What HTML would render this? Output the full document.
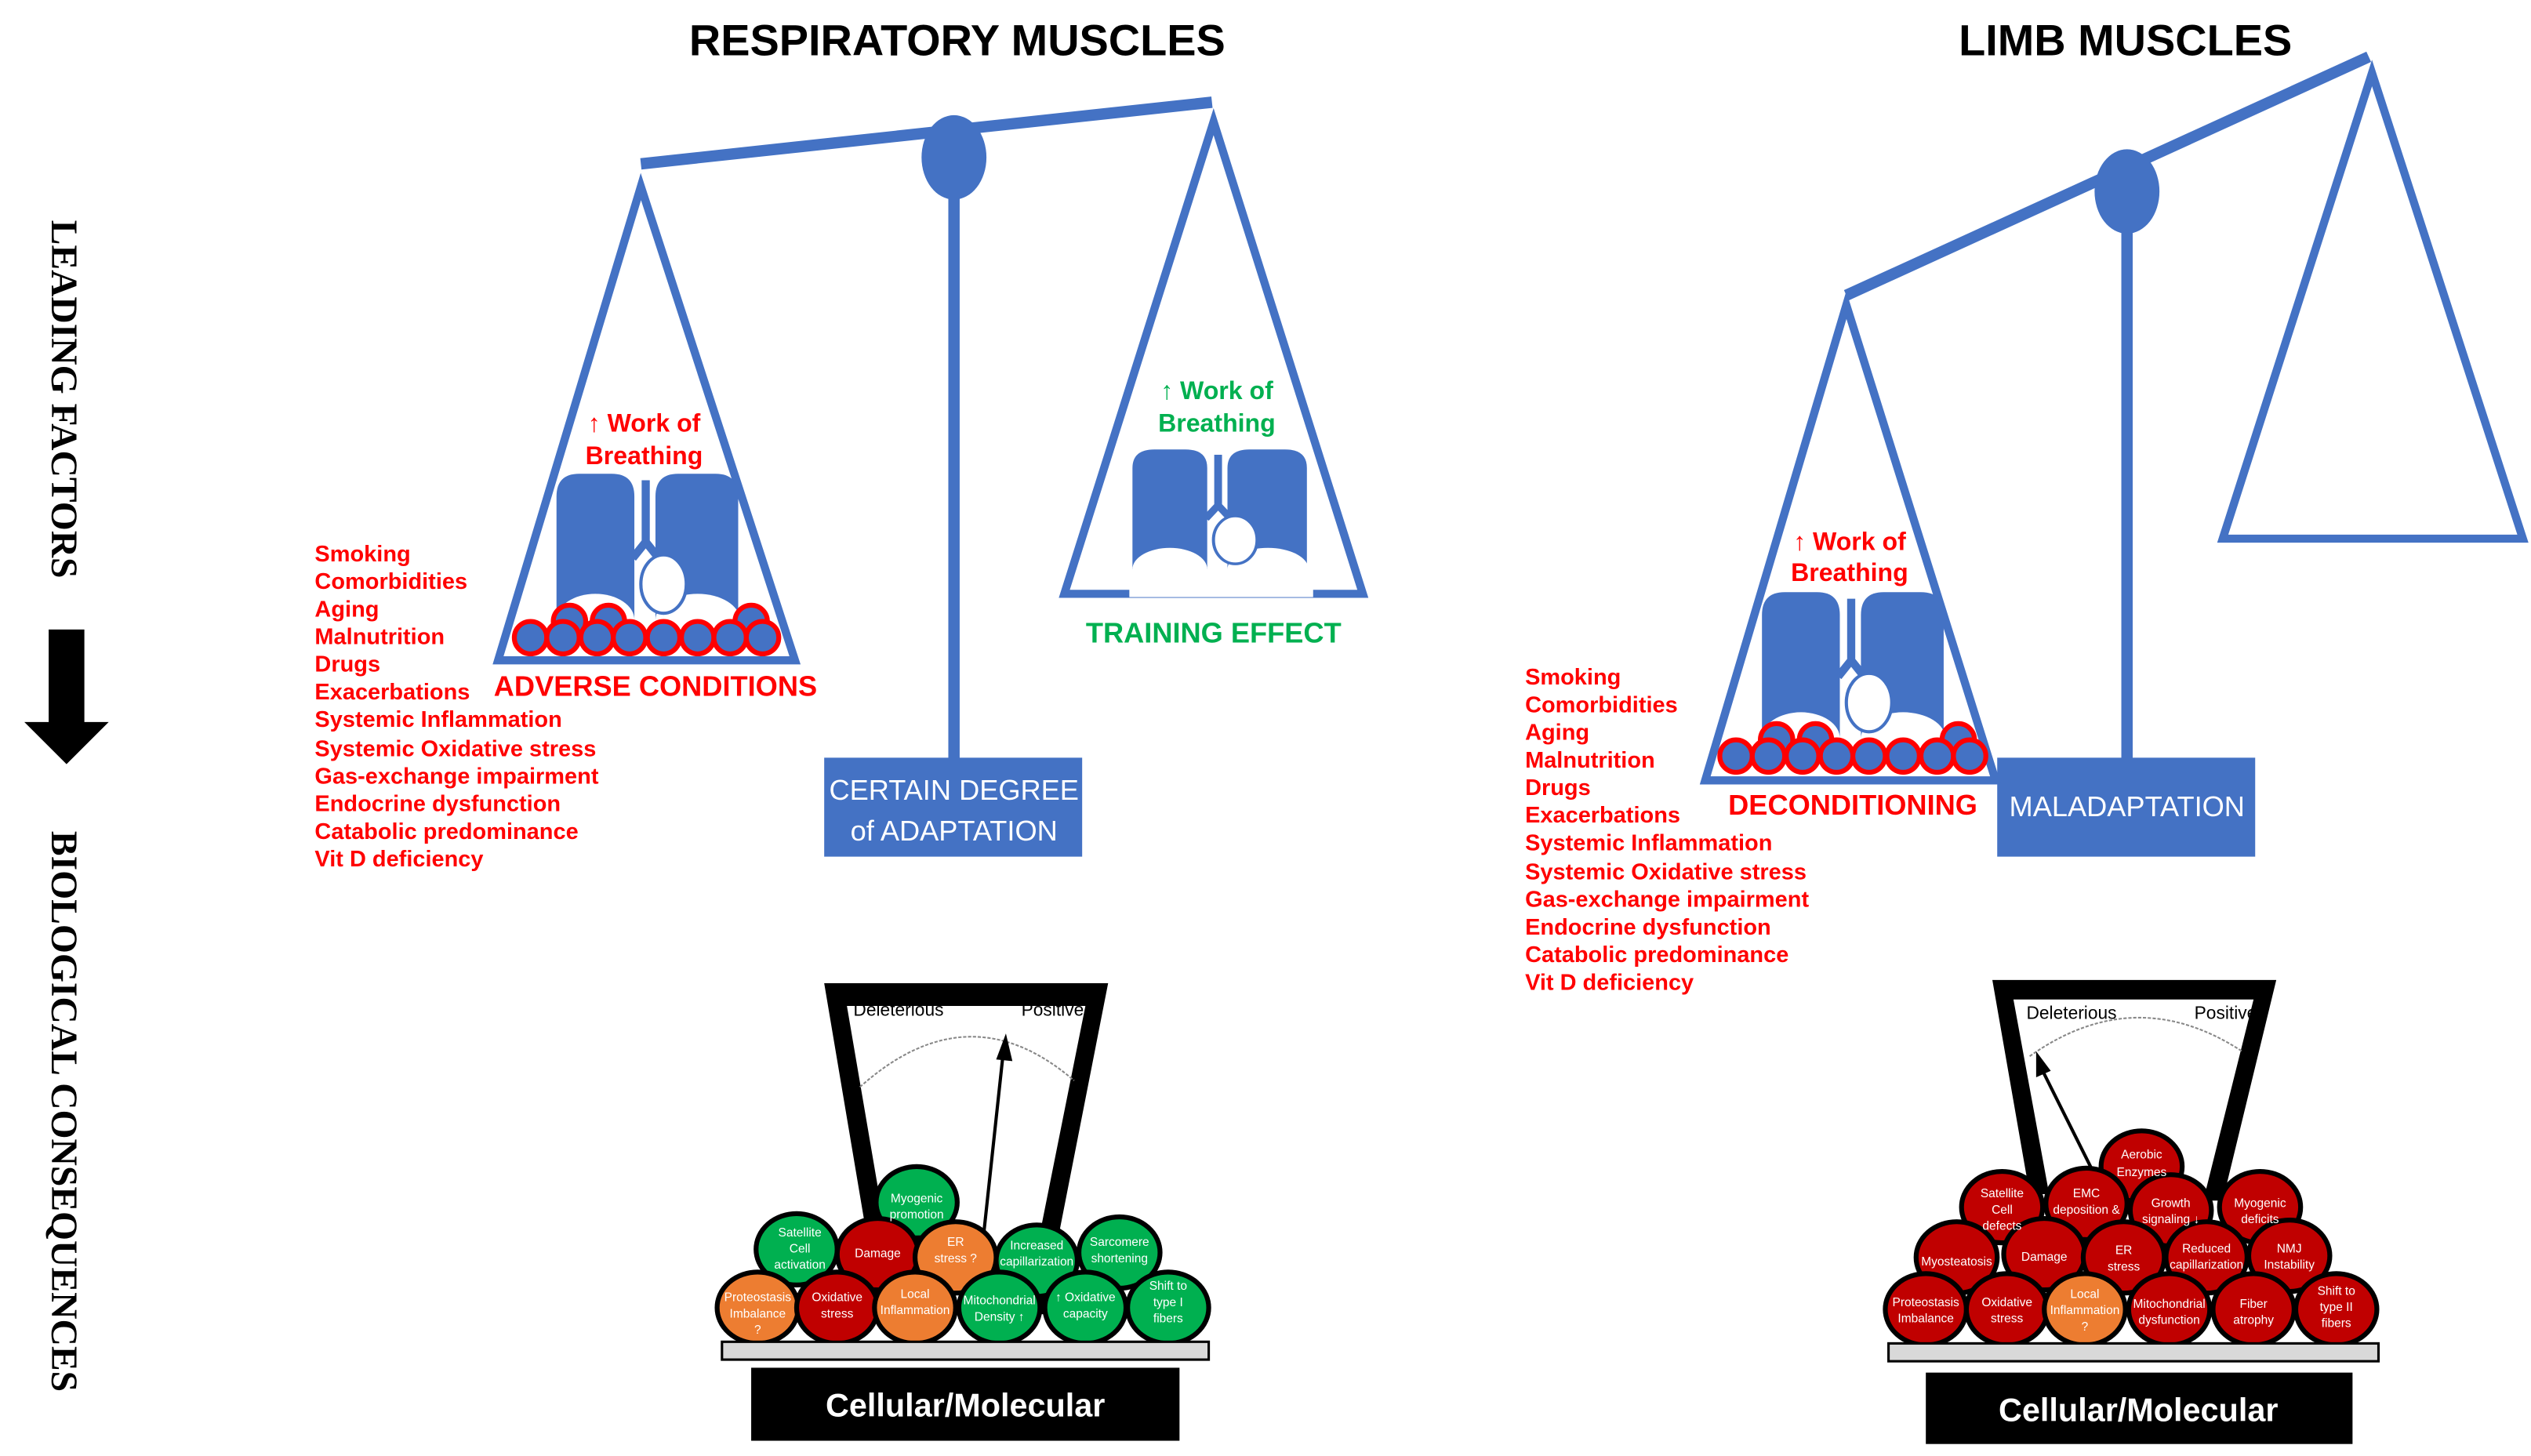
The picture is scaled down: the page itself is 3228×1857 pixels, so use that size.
<!DOCTYPE html>
<html><head><meta charset="utf-8"><style>
html,body{margin:0;padding:0;background:#fff}
svg{display:block}
text{font-family:"Liberation Sans",sans-serif}
</style></head><body>
<svg width="3228" height="1857" viewBox="0 0 1560 897.4" preserveAspectRatio="none" xmlns="http://www.w3.org/2000/svg">
<defs>
<g id="lungs">
  <path d="M0,90 L0,14 Q0,0 14,0 L34,0 Q48,0 48,14 L48,90 Z" fill="#4472C4"/>
  <path d="M61,90 L61,14 Q61,0 75,0 L98,0 Q112,0 112,14 L112,90 Z" fill="#4472C4"/>
  <path d="M55,4 L55,42 L47,52 M55,42 L63,52" stroke="#4472C4" stroke-width="5" fill="none"/>
  <ellipse cx="24" cy="90" rx="24" ry="16" fill="#fff"/>
  <ellipse cx="87" cy="90" rx="26" ry="16" fill="#fff"/>
  <rect x="-2" y="91" width="118" height="20" fill="#fff"/>
  <ellipse cx="66" cy="68" rx="14" ry="18" fill="#fff" stroke="#4472C4" stroke-width="2"/>
</g>
</defs>

<!-- Titles -->
<text x="590" y="34" font-size="27" font-weight="bold" text-anchor="middle" fill="#000">RESPIRATORY MUSCLES</text>
<text x="1310" y="34" font-size="27" font-weight="bold" text-anchor="middle" fill="#000">LIMB MUSCLES</text>

<!-- Vertical labels -->
<text transform="translate(32,246) rotate(90)" font-family="Liberation Serif,serif" font-size="23" font-weight="bold" text-anchor="middle" style="font-family:'Liberation Serif',serif">LEADING FACTORS</text>
<polygon points="30,388 52,388 52,445 67,445 41,471 15,445 30,445" fill="#000"/>
<text transform="translate(32,685) rotate(90)" font-size="23" font-weight="bold" text-anchor="middle" style="font-family:'Liberation Serif',serif">BIOLOGICAL CONSEQUENCES</text>

<!-- LEFT SCALE -->
<line x1="395" y1="101" x2="747" y2="63" stroke="#4472C4" stroke-width="7"/>
<line x1="588" y1="100" x2="588" y2="470" stroke="#4472C4" stroke-width="7"/>
<ellipse cx="588" cy="97" rx="20" ry="26" fill="#4472C4"/>
<rect x="508" y="467" width="159" height="61" fill="#4472C4"/>
<text x="588" y="493" font-size="17.5" fill="#fff" text-anchor="middle">CERTAIN DEGREE</text>
<text x="588" y="518" font-size="17.5" fill="#fff" text-anchor="middle">of ADAPTATION</text>

<polygon points="395,115 307,407 490,407" fill="none" stroke="#4472C4" stroke-width="5"/>
<text x="397" y="266" font-size="15.5" font-weight="bold" fill="#f00" text-anchor="middle">↑ Work of</text>
<text x="397" y="286" font-size="15.5" font-weight="bold" fill="#f00" text-anchor="middle">Breathing</text>
<use href="#lungs" transform="translate(343,292)"/>
<g fill="#4472C4" stroke="#f00" stroke-width="3">
<circle cx="351" cy="383" r="10"/><circle cx="375" cy="383" r="10"/><circle cx="463" cy="383" r="10"/>
<circle cx="327" cy="393" r="10"/><circle cx="347" cy="393" r="10"/><circle cx="368" cy="393" r="10"/><circle cx="388" cy="393" r="10"/><circle cx="409" cy="393" r="10"/><circle cx="430" cy="393" r="10"/><circle cx="450" cy="393" r="10"/><circle cx="470" cy="393" r="10"/>
</g>
<text x="404" y="429" font-size="17.5" font-weight="bold" fill="#f00" text-anchor="middle">ADVERSE CONDITIONS</text>

<polygon points="748,75 656,366 840,366" fill="none" stroke="#4472C4" stroke-width="5"/>
<text x="750" y="246" font-size="15.5" font-weight="bold" fill="#00B050" text-anchor="middle">↑ Work of</text>
<text x="750" y="266" font-size="15.5" font-weight="bold" fill="#00B050" text-anchor="middle">Breathing</text>
<use href="#lungs" transform="translate(698,277) scale(0.96,0.82)"/>
<text x="748" y="396" font-size="17.5" font-weight="bold" fill="#00B050" text-anchor="middle">TRAINING EFFECT</text>

<g font-size="14" font-weight="bold" fill="#f00">
<text x="194" y="346">Smoking</text><text x="194" y="363">Comorbidities</text><text x="194" y="380">Aging</text><text x="194" y="397">Malnutrition</text><text x="194" y="414">Drugs</text><text x="194" y="431">Exacerbations</text><text x="194" y="448">Systemic Inflammation</text><text x="194" y="466">Systemic Oxidative stress</text><text x="194" y="483">Gas-exchange impairment</text><text x="194" y="500">Endocrine dysfunction</text><text x="194" y="517">Catabolic predominance</text><text x="194" y="534">Vit D deficiency</text>
</g>

<!-- RIGHT SCALE -->
<line x1="1138" y1="182" x2="1460" y2="35" stroke="#4472C4" stroke-width="7"/>
<line x1="1311" y1="120" x2="1311" y2="470" stroke="#4472C4" stroke-width="7"/>
<ellipse cx="1311" cy="118" rx="20" ry="26" fill="#4472C4"/>
<rect x="1231" y="467" width="159" height="61" fill="#4472C4"/>
<text x="1311" y="503" font-size="17.5" fill="#fff" text-anchor="middle">MALADAPTATION</text>

<polygon points="1138,188 1051,481 1230,481" fill="none" stroke="#4472C4" stroke-width="5"/>
<text x="1140" y="339" font-size="15.5" font-weight="bold" fill="#f00" text-anchor="middle">↑ Work of</text>
<text x="1140" y="358" font-size="15.5" font-weight="bold" fill="#f00" text-anchor="middle">Breathing</text>
<use href="#lungs" transform="translate(1086,365)"/>
<g fill="#4472C4" stroke="#f00" stroke-width="3">
<circle cx="1095" cy="456" r="10"/><circle cx="1119" cy="456" r="10"/><circle cx="1207" cy="456" r="10"/>
<circle cx="1070" cy="466" r="10"/><circle cx="1090" cy="466" r="10"/><circle cx="1111" cy="466" r="10"/><circle cx="1132" cy="466" r="10"/><circle cx="1152" cy="466" r="10"/><circle cx="1173" cy="466" r="10"/><circle cx="1194" cy="466" r="10"/><circle cx="1214" cy="466" r="10"/>
</g>
<text x="1142" y="502" font-size="17.5" font-weight="bold" fill="#f00" text-anchor="middle">DECONDITIONING</text>

<polygon points="1462,45 1370,332 1555,332" fill="none" stroke="#4472C4" stroke-width="5"/>

<g font-size="14" font-weight="bold" fill="#f00">
<text x="940" y="422">Smoking</text><text x="940" y="439">Comorbidities</text><text x="940" y="456">Aging</text><text x="940" y="473">Malnutrition</text><text x="940" y="490">Drugs</text><text x="940" y="507">Exacerbations</text><text x="940" y="524">Systemic Inflammation</text><text x="940" y="542">Systemic Oxidative stress</text><text x="940" y="559">Gas-exchange impairment</text><text x="940" y="576">Endocrine dysfunction</text><text x="940" y="593">Catabolic predominance</text><text x="940" y="610">Vit D deficiency</text>
</g>

<!-- LEFT GAUGE -->
<polygon points="508,606 683,606 643,810 631,810 669,620 522,620 551,790 539,790" fill="#000"/>
<text x="526" y="626" font-size="11">Deleterious</text>
<text x="668" y="626" font-size="11" text-anchor="end">Positive</text>
<path d="M530,670 Q597,610 662,666" fill="none" stroke="#888" stroke-width="1" stroke-dasharray="2,1"/>
<line x1="601" y1="810" x2="618" y2="652" stroke="#000" stroke-width="2"/>
<polygon points="620,637 614,653 624,654" fill="#000"/>
<g stroke="#000" stroke-width="3" font-size="7.5" fill="#fff" text-anchor="middle">
<ellipse cx="565" cy="741" rx="25" ry="22" fill="#00B050"/>
<ellipse cx="491" cy="770" rx="25" ry="22" fill="#00B050"/>
<ellipse cx="541" cy="773" rx="25" ry="22" fill="#C00000"/>
<ellipse cx="589" cy="775" rx="25" ry="22" fill="#ED7D31"/>
<ellipse cx="639" cy="777" rx="25" ry="22" fill="#00B050"/>
<ellipse cx="690" cy="772" rx="25" ry="22" fill="#00B050"/>
<ellipse cx="467" cy="806" rx="25" ry="22" fill="#ED7D31"/>
<ellipse cx="516" cy="806" rx="25" ry="22" fill="#C00000"/>
<ellipse cx="564" cy="806" rx="25" ry="22" fill="#ED7D31"/>
<ellipse cx="616" cy="806" rx="25" ry="22" fill="#00B050"/>
<ellipse cx="669" cy="806" rx="25" ry="22" fill="#00B050"/>
<ellipse cx="720" cy="806" rx="25" ry="22" fill="#00B050"/>
</g>
<g font-size="7.5" fill="#fff" text-anchor="middle">
<text x="565" y="741">Myogenic</text><text x="565" y="751">promotion</text>
<text x="493" y="762">Satellite</text><text x="493" y="772">Cell</text><text x="493" y="782">activation</text>
<text x="541" y="775">Damage</text>
<text x="589" y="768">ER</text><text x="589" y="778">stress ?</text>
<text x="639" y="770">Increased</text><text x="639" y="780">capillarization</text>
<text x="690" y="768">Sarcomere</text><text x="690" y="778">shortening</text>
<text x="467" y="802">Proteostasis</text><text x="467" y="812">Imbalance</text><text x="467" y="822">?</text>
<text x="516" y="802">Oxidative</text><text x="516" y="812">stress</text>
<text x="564" y="800">Local</text><text x="564" y="810">Inflammation</text>
<text x="616" y="804">Mitochondrial</text><text x="616" y="814">Density ↑</text>
<text x="669" y="802">↑ Oxidative</text><text x="669" y="812">capacity</text>
<text x="720" y="795">Shift to</text><text x="720" y="805">type I</text><text x="720" y="815">fibers</text>
</g>
<rect x="445" y="827" width="300" height="11" fill="#d9d9d9" stroke="#000" stroke-width="1.5"/>
<rect x="463" y="843" width="264" height="45" fill="#000"/>
<text x="595" y="873" font-size="20" font-weight="bold" fill="#fff" text-anchor="middle">Cellular/Molecular</text>

<!-- RIGHT GAUGE -->
<polygon points="1228,604 1403,604 1370,740 1358,740 1389,616 1241,616 1263,736 1251,736" fill="#000"/>
<text x="1249" y="628" font-size="11">Deleterious</text>
<text x="1391" y="628" font-size="11" text-anchor="end">Positive</text>
<path d="M1251,651 Q1316,605 1382,648" fill="none" stroke="#888" stroke-width="1" stroke-dasharray="2,1"/>
<line x1="1290" y1="722" x2="1259" y2="660" stroke="#000" stroke-width="2"/>
<polygon points="1255,648 1255,664 1264,660" fill="#000"/>
<g stroke="#000" stroke-width="3" fill="#C00000">
<ellipse cx="1320" cy="719" rx="25" ry="22"/>
<ellipse cx="1234" cy="744" rx="25" ry="22"/>
<ellipse cx="1286" cy="742" rx="25" ry="22"/>
<ellipse cx="1338" cy="746" rx="25" ry="22"/>
<ellipse cx="1393" cy="744" rx="25" ry="22"/>
<ellipse cx="1206" cy="775" rx="25" ry="22"/>
<ellipse cx="1260" cy="773" rx="25" ry="22"/>
<ellipse cx="1309" cy="775" rx="25" ry="22"/>
<ellipse cx="1360" cy="775" rx="25" ry="22"/>
<ellipse cx="1411" cy="774" rx="25" ry="22"/>
<ellipse cx="1187" cy="807" rx="25" ry="22"/>
<ellipse cx="1237" cy="807" rx="25" ry="22"/>
<ellipse cx="1285" cy="807" rx="25" ry="22" fill="#ED7D31"/>
<ellipse cx="1337" cy="807" rx="25" ry="22"/>
<ellipse cx="1389" cy="807" rx="25" ry="22"/>
<ellipse cx="1440" cy="807" rx="25" ry="22"/>
</g>
<g font-size="7.5" fill="#fff" text-anchor="middle">
<text x="1320" y="714">Aerobic</text><text x="1320" y="725">Enzymes</text>
<text x="1234" y="738">Satellite</text><text x="1234" y="748">Cell</text><text x="1234" y="758">defects</text>
<text x="1286" y="738">EMC</text><text x="1286" y="748">deposition &amp;</text>
<text x="1338" y="744">Growth</text><text x="1338" y="754">signaling ↓</text>
<text x="1393" y="744">Myogenic</text><text x="1393" y="754">deficits</text>
<text x="1206" y="780">Myosteatosis</text>
<text x="1260" y="777">Damage</text>
<text x="1309" y="773">ER</text><text x="1309" y="783">stress</text>
<text x="1360" y="772">Reduced</text><text x="1360" y="782">capillarization</text>
<text x="1411" y="772">NMJ</text><text x="1411" y="782">Instability</text>
<text x="1187" y="805">Proteostasis</text><text x="1187" y="815">Imbalance</text>
<text x="1237" y="805">Oxidative</text><text x="1237" y="815">stress</text>
<text x="1285" y="800">Local</text><text x="1285" y="810">Inflammation</text><text x="1285" y="820">?</text>
<text x="1337" y="806">Mitochondrial</text><text x="1337" y="816">dysfunction</text>
<text x="1389" y="806">Fiber</text><text x="1389" y="816">atrophy</text>
<text x="1440" y="798">Shift to</text><text x="1440" y="808">type II</text><text x="1440" y="818">fibers</text>
</g>
<rect x="1164" y="828" width="302" height="11" fill="#d9d9d9" stroke="#000" stroke-width="1.5"/>
<rect x="1187" y="846" width="263" height="44" fill="#000"/>
<text x="1318" y="876" font-size="20" font-weight="bold" fill="#fff" text-anchor="middle">Cellular/Molecular</text>
</svg>
</body></html>
